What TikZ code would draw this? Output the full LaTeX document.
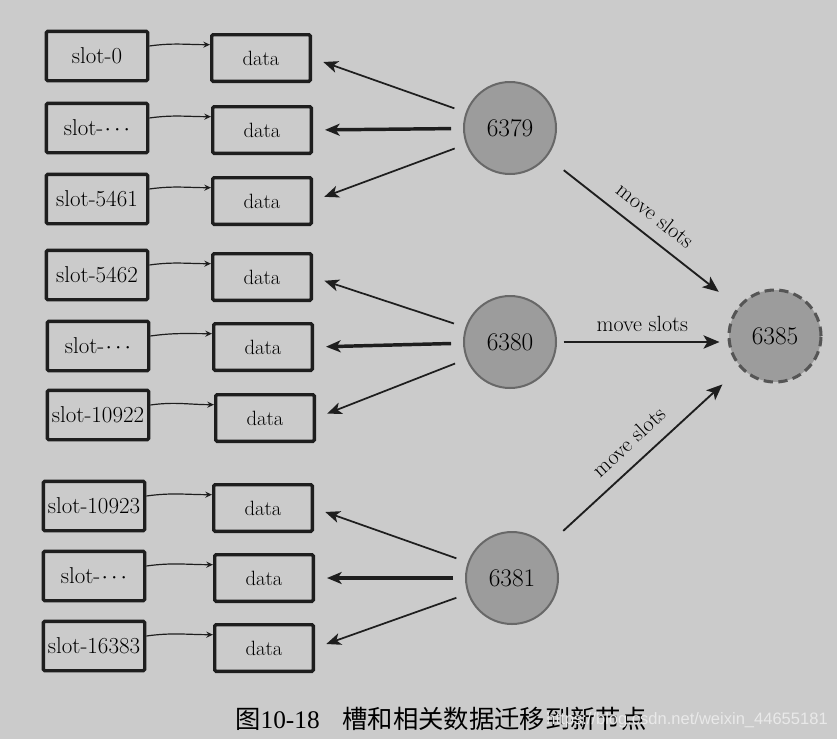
\documentclass[tikz,border=0pt]{standalone}
\usepackage{fontspec}
\newfontfamily\cjk{Noto Sans CJK SC}
\newfontfamily\capfont{Liberation Serif}
\newfontfamily\markfont{Liberation Sans}
\usetikzlibrary{arrows.meta}

\definecolor{bggray}{HTML}{CBCBCB}
\definecolor{nodegray}{HTML}{9C9C9C}
\definecolor{rimgray}{HTML}{686868}
\definecolor{dashgray}{HTML}{555555}
\definecolor{inkgray}{HTML}{1E1E1E}
\definecolor{markwhite}{HTML}{E9E9E9}

\newcommand{\slotdots}{\kern1pt$\cdot\kern-1.5pt\cdot\kern-1.5pt\cdot$}

\begin{document}
\begin{tikzpicture}[x=0.75pt,y=-0.75pt]
            % Base settings
            \tikzset{
              slotbox/.style={draw=inkgray, line width=2.5pt, rounded corners=1pt, minimum width=76pt, minimum height=37pt, inner sep=0.5pt, font=\fontsize{17.2}{20}\selectfont},
              databox/.style={slotbox, minimum width=74pt, minimum height=35pt, font=\fontsize{15.5}{18}\selectfont},
              server/.style={circle, fill=nodegray, draw=rimgray, line width=1.5pt, minimum size=69pt, font=\fontsize{19}{22}\selectfont},
              newserver/.style={server, draw=dashgray, line width=2.3pt, dash pattern=on 7pt off 4pt},
              link/.style={draw=inkgray, line width=0.9pt, -{Stealth[length=5pt,width=4.5pt]}},
              fetch/.style={draw=inkgray, line width=1.3pt, shorten <=9pt, shorten >=9pt, -{Stealth[length=11pt,width=9pt,inset=3pt]}},
              fetchmain/.style={fetch, line width=2.6pt},
              migrate/.style={draw=inkgray, line width=1.4pt, -{Stealth[length=12pt,width=10pt,inset=3pt]}},
              lbl/.style={font=\fontsize{16.5}{19}\selectfont}
            }

            % --- Background ---
            \fill[bggray] (0,0) rectangle (837,739);

            % --- Slots and data ---
            \node[slotbox] (s1) at (97,56) {slot-0};
            \node[databox] (d1) at (261,58) {data};
            \node[slotbox] (s2) at (97,128) {slot-\slotdots};
            \node[databox] (d2) at (262,130) {data};
            \node[slotbox] (s3) at (97,199) {slot-5461};
            \node[databox] (d3) at (262,201) {data};

            \node[slotbox] (s4) at (97,275) {slot-5462};
            \node[databox] (d4) at (262,277) {data};
            \node[slotbox] (s5) at (98,346) {slot-\slotdots};
            \node[databox] (d5) at (263,347) {data};
            \node[slotbox] (s6) at (98,415) {slot-10922};
            \node[databox] (d6) at (265,418) {data};

            \node[slotbox] (s7) at (94,506) {slot-10923};
            \node[databox] (d7) at (263,508) {data};
            \node[slotbox] (s8) at (94,576) {slot-\slotdots};
            \node[databox] (d8) at (264,578) {data};
            \node[slotbox] (s9) at (94,646) {slot-16383};
            \node[databox] (d9) at (264,648) {data};

            % slot -> data
            \draw[link] ([yshift=7.5pt]s1.east) to[out=8,in=180] ([yshift=10pt]d1.west);
            \draw[link] ([yshift=7.5pt]s2.east) to[out=8,in=180] ([yshift=10pt]d2.west);
            \draw[link] ([yshift=7.5pt]s3.east) to[out=8,in=180] ([yshift=10pt]d3.west);
            \draw[link] ([yshift=7.5pt]s4.east) to[out=8,in=180] ([yshift=10pt]d4.west);
            \draw[link] ([yshift=7.5pt]s5.east) to[out=8,in=180] ([yshift=10pt]d5.west);
            \draw[link] ([yshift=7.5pt]s6.east) to[out=8,in=180] ([yshift=10pt]d6.west);
            \draw[link] ([yshift=7.5pt]s7.east) to[out=8,in=180] ([yshift=10pt]d7.west);
            \draw[link] ([yshift=7.5pt]s8.east) to[out=8,in=180] ([yshift=10pt]d8.west);
            \draw[link] ([yshift=7.5pt]s9.east) to[out=8,in=180] ([yshift=10pt]d9.west);

            % --- Servers ---
            \node[server] (n6379) at (510,128) {6379};
            \node[server] (n6380) at (510,342) {6380};
            \node[server] (n6381) at (512,578) {6381};
            \node[newserver] (n6385) at (775,336) {6385};

            % server -> data
            \draw[fetch] (n6379) -- (d1.east);
            \draw[fetchmain] (n6379) -- (d2.east);
            \draw[fetch] (n6379) -- (d3.east);

            \draw[fetch] (n6380) -- (d4.east);
            \draw[fetchmain] (n6380) -- (d5.east);
            \draw[fetch] (n6380) -- (d6.east);

            \draw[fetch] (n6381) -- (d7.east);
            \draw[fetchmain] (n6381) -- (d8.east);
            \draw[fetch] (n6381) -- (d9.east);

            % --- Migration ---
            \draw[migrate, shorten <=16pt, shorten >=18pt]
              (n6379) -- node[sloped, above=6pt, lbl] {move slots} (n6385);
            \draw[migrate, shorten <=5pt, shorten >=6pt]
              (n6380.east) -- node[above=4pt, lbl] {move slots} (n6385.west |- n6380.east);
            \draw[migrate, shorten <=17pt, shorten >=18pt]
              (n6381) -- node[sloped, above=6pt, lbl] {move slots} (n6385);

            % --- Caption ---
            \node[anchor=west, inner sep=0pt, font=\fontsize{19}{21}\selectfont] (cap) at (235,719)
              {{\cjk 图}{\capfont 10-18}\hspace{17pt}{\cjk 槽和相关数据迁移到新节点}};
            \node[anchor=east, inner sep=0pt, text=markwhite, font=\markfont\fontsize{12.4}{15}\selectfont] (mark) at (828,720)
              {https://blog.csdn.net/weixin\_44655181};

\end{tikzpicture}
\end{document}
